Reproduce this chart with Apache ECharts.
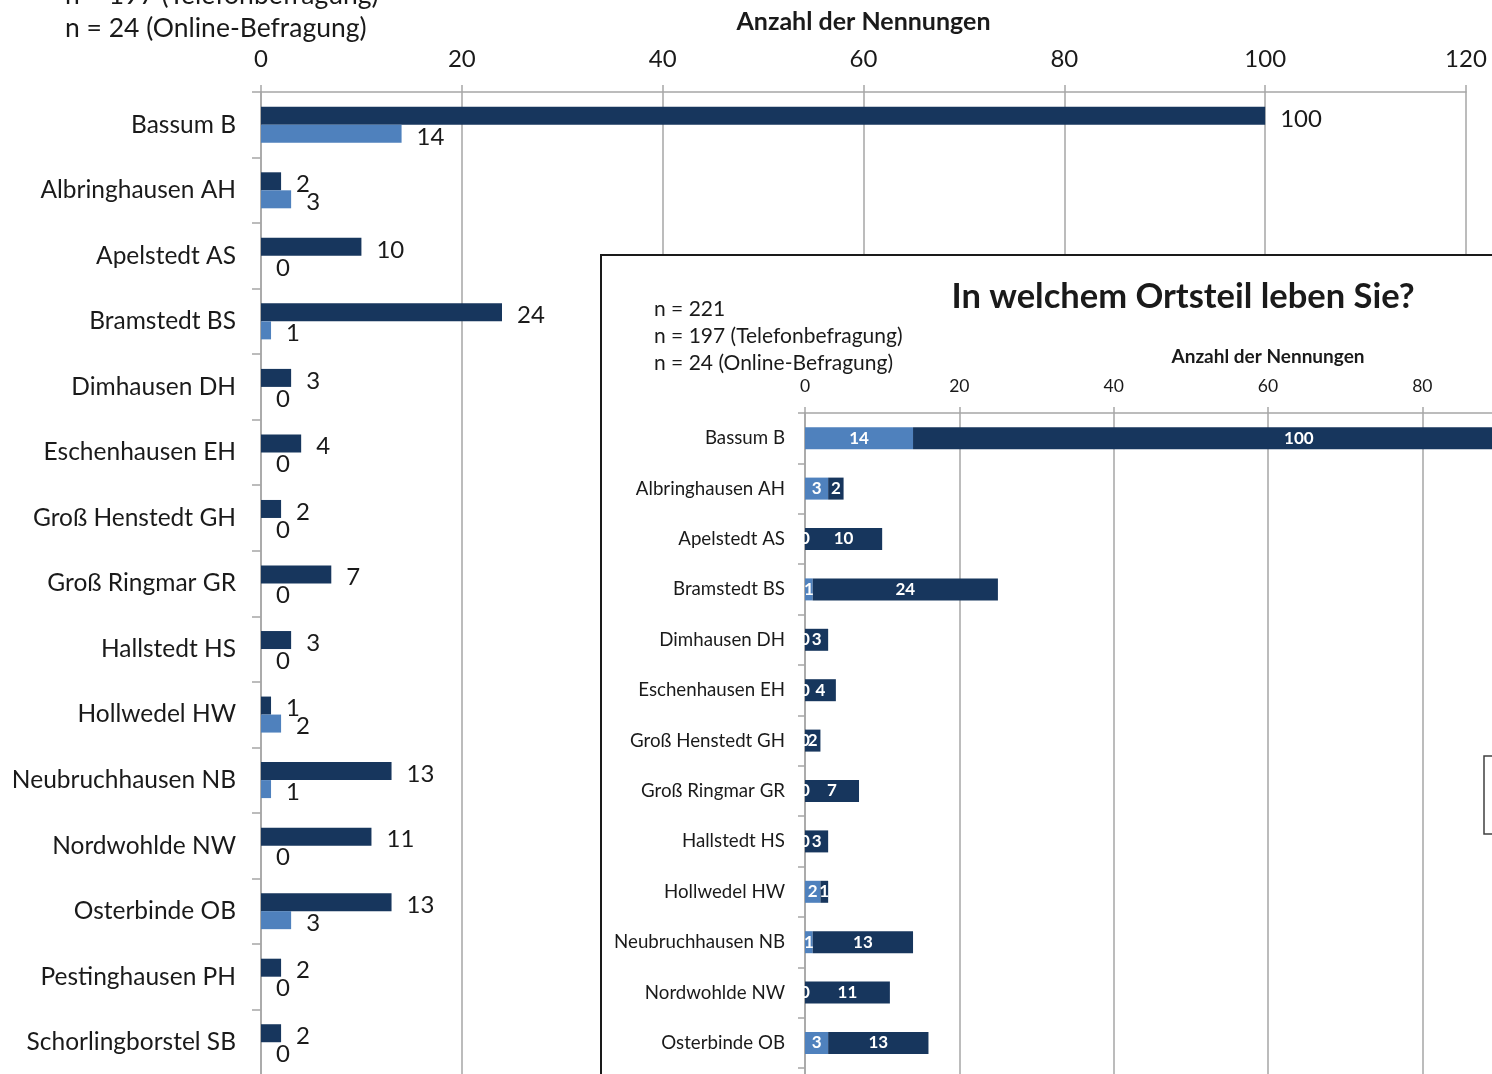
<!DOCTYPE html>
<html>
<head>
<meta charset="utf-8">
<script src="https://cdn.jsdelivr.net/npm/echarts@6/dist/echarts.min.js"></script>
<style>
  html, body { margin: 0; padding: 0; overflow: hidden; background: #fff; }
  #main { position: absolute; left: 0; top: 0; width: 1492px; height: 1074px; }
  #inset { position: absolute; left: 600px; top: 254px; width: 1300px; height: 1000px;
           border: 2px solid #1a1a1a; background: #fff; box-sizing: border-box; }
</style>
</head>
<body>
<div id="main"></div>
<div id="inset"></div>
<script>
  // Ortsteile (Kategorien)
  var ortsteile = ['Bassum B', 'Albringhausen AH', 'Apelstedt AS', 'Bramstedt BS', 'Dimhausen DH',
    'Eschenhausen EH', 'Groß Henstedt GH', 'Groß Ringmar GR', 'Hallstedt HS', 'Hollwedel HW',
    'Neubruchhausen NB', 'Nordwohlde NW', 'Osterbinde OB', 'Pestinghausen PH', 'Schorlingborstel SB'];
  // Anzahl der Nennungen
  var telefon = [100, 2, 10, 24, 3, 4, 2, 7, 3, 1, 13, 11, 13, 2, 2];
  var online = [14, 3, 0, 1, 0, 0, 0, 0, 0, 2, 1, 0, 3, 0, 0];
  var xTicks = [0, 20, 40, 60, 80, 100, 120];

  var dunkel = '#17365d';
  var hell = '#4f81bd';
  var font = 'Lato';
  var textColor = '#1a1a1a';
  var gridColor = '#a6a6a6';

  // grosses Diagramm (Hintergrund)
  var chartMain = echarts.init(document.getElementById('main'));
  chartMain.setOption({
    animation: false,
    textStyle: { fontFamily: font },
    graphic: [
      { type: 'text', x: 65, y: -5, style: { text: 'n = 197 (Telefonbefragung)', font: '26.5px Lato', fill: textColor, verticalAlign: 'middle' } },
      { type: 'text', x: 65, y: 28, style: { text: 'n = 24 (Online-Befragung)', font: '26.5px Lato', fill: textColor, verticalAlign: 'middle' } }
    ],
    grid: { left: 261, top: 92, width: 1205, height: 983, outerBoundsMode: 'none' },
    xAxis: {
      type: 'value',
      position: 'top',
      min: xTicks[0],
      max: xTicks[xTicks.length - 1],
      interval: 20,
      name: 'Anzahl der Nennungen',
      nameLocation: 'middle',
      nameGap: 58,
      nameTextStyle: { fontSize: 25, fontWeight: 'bold', color: textColor, fontFamily: font },
      axisLine: { show: true, lineStyle: { color: gridColor, width: 1.5 } },
      axisTick: { show: true, length: 7, lineStyle: { color: gridColor, width: 1.5 } },
      axisLabel: { fontSize: 24, color: textColor, margin: 21, fontFamily: font },
      splitLine: { show: true, lineStyle: { color: gridColor, width: 1.5 } }
    },
    yAxis: {
      type: 'category',
      inverse: true,
      data: ortsteile,
      axisLine: { show: true, lineStyle: { color: gridColor, width: 1.5 } },
      axisTick: { show: true, length: 9, lineStyle: { color: gridColor, width: 1.5 } },
      axisLabel: { fontSize: 24.5, color: textColor, margin: 25, fontFamily: font }
    },
    series: [
      {
        name: 'Telefonbefragung', type: 'bar', data: telefon,
        barWidth: 18, barGap: '0%',
        itemStyle: { color: dunkel },
        label: { show: true, position: 'right', distance: 15, offset: [0, 3], fontSize: 24, color: textColor, fontFamily: font }
      },
      {
        name: 'Online-Befragung', type: 'bar', data: online,
        barWidth: 18, barGap: '0%',
        itemStyle: { color: hell },
        label: { show: true, position: 'right', distance: 15, offset: [0, 3], fontSize: 24, color: textColor, fontFamily: font }
      }
    ]
  });

  // eingefuegtes Diagramm (gestapelt)
  var chartInset = echarts.init(document.getElementById('inset'));
  chartInset.setOption({
    animation: false,
    textStyle: { fontFamily: font },
    title: {
      text: 'In welchem Ortsteil leben Sie?',
      left: 576, top: 18,
      textAlign: 'center',
      textStyle: { fontSize: 34.5, fontWeight: 'bold', color: textColor, fontFamily: font }
    },
    graphic: [
      { type: 'text', x: 52, y: 53, style: { text: 'n = 221', font: '21px Lato', fill: textColor, verticalAlign: 'middle' } },
      { type: 'text', x: 52, y: 80, style: { text: 'n = 197 (Telefonbefragung)', font: '21px Lato', fill: textColor, verticalAlign: 'middle' } },
      { type: 'text', x: 52, y: 107, style: { text: 'n = 24 (Online-Befragung)', font: '21px Lato', fill: textColor, verticalAlign: 'middle' } }
    ],
    legend: {
      orient: 'vertical',
      left: 882, top: 500,
      padding: [20, 20],
      itemGap: 10,
      itemHeight: 14,
      borderColor: '#404040',
      borderWidth: 1.5,
      data: ['Online-Befragung', 'Telefonbefragung']
    },
    grid: { left: 203, top: 157, width: 926, height: 756, outerBoundsMode: 'none' },
    xAxis: {
      type: 'value',
      position: 'top',
      min: xTicks[0],
      max: xTicks[xTicks.length - 1],
      interval: 20,
      name: 'Anzahl der Nennungen',
      nameLocation: 'middle',
      nameGap: 47,
      nameTextStyle: { fontSize: 19, fontWeight: 'bold', color: textColor, fontFamily: font },
      axisLine: { show: true, lineStyle: { color: gridColor, width: 1.5 } },
      axisTick: { show: true, length: 6, lineStyle: { color: gridColor, width: 1.5 } },
      axisLabel: { fontSize: 17.5, color: textColor, margin: 18, fontFamily: font },
      splitLine: { show: true, lineStyle: { color: gridColor, width: 1.5 } }
    },
    yAxis: {
      type: 'category',
      inverse: true,
      data: ortsteile,
      axisLine: { show: true, lineStyle: { color: gridColor, width: 1.5 } },
      axisTick: { show: true, length: 7, lineStyle: { color: gridColor, width: 1.5 } },
      axisLabel: { fontSize: 18.7, color: textColor, margin: 20, fontFamily: font }
    },
    series: [
      {
        name: 'Online-Befragung', type: 'bar', stack: 'gesamt', data: online,
        barWidth: 22,
        itemStyle: { color: hell },
        label: { show: true, position: 'inside', fontSize: 17, fontWeight: 'bold', color: '#fff', fontFamily: font }
      },
      {
        name: 'Telefonbefragung', type: 'bar', stack: 'gesamt', data: telefon,
        barWidth: 22,
        itemStyle: { color: dunkel },
        label: { show: true, position: 'inside', fontSize: 17, fontWeight: 'bold', color: '#fff', fontFamily: font }
      }
    ]
  });
</script>
</body>
</html>
